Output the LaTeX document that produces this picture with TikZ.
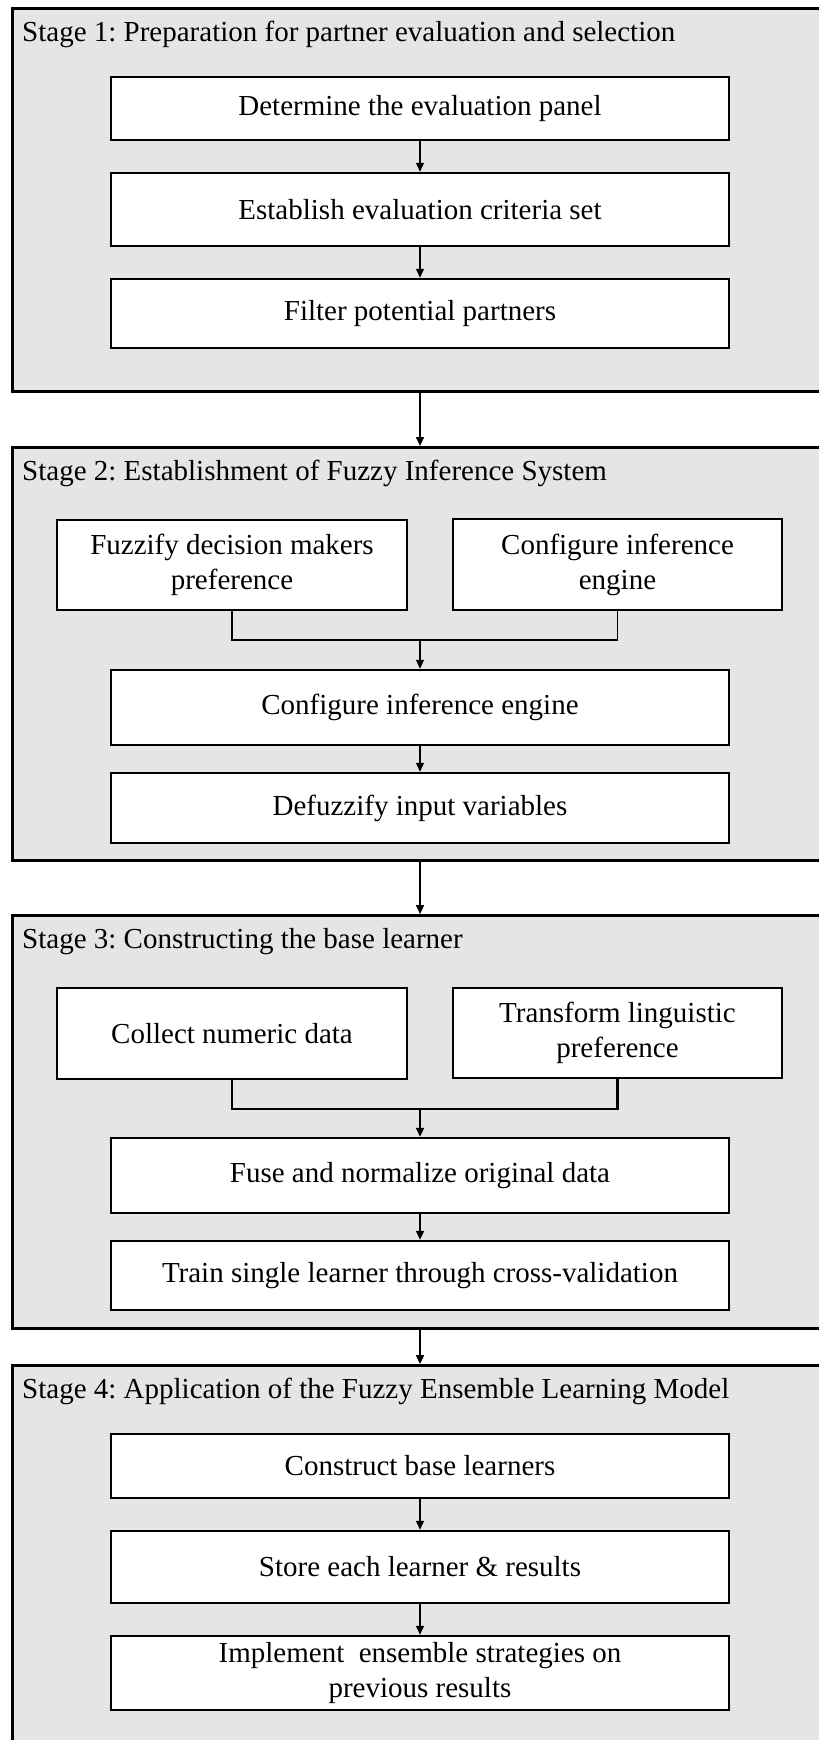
\documentclass[tikz,border=0pt]{standalone}
\usepackage{fontspec}
\setmainfont{Liberation Serif}
\frenchspacing
\usetikzlibrary{arrows.meta}

\begin{document}
\begin{tikzpicture}[x=1pt, y=-1pt,
		stagebox/.style={draw, line width=2.5pt, fill=gray!20, anchor=north west, inner sep=0pt},
		stagetitle/.style={anchor=base west, inner sep=0pt},
		stepbox/.style={draw, line width=2.5pt, fill=white, align=center, inner sep=0pt},
		lnthin/.style={line width=1.3pt},
		lnthick/.style={line width=2.2pt},
		arr/.style={-{Triangle[width=8pt,length=9pt]}},
		font=\fontsize{29}{35}\selectfont]
				\useasboundingbox (0,0) rectangle (819,1740);
				
				% Stage frames
				\node[stagebox, minimum width=830pt, minimum height=383pt] (s1) at (11,7) {};
				\node[stagebox, minimum width=830pt, minimum height=413pt] (s2) at (11,446) {};
				\node[stagebox, minimum width=830pt, minimum height=413pt] (s3) at (11,914) {};
				\node[stagebox, minimum width=830pt, minimum height=406pt] (s4) at (11,1364) {};
				
				% Stage titles
				\node[stagetitle] (t1) at (22,41) {Stage 1: Preparation for partner evaluation and selection};
				\node[stagetitle] (t2) at (22,480) {Stage 2: Establishment of Fuzzy Inference System};
				\node[stagetitle] (t3) at (22,948) {Stage 3: Constructing the base learner};
				\node[stagetitle] (t4) at (22,1398) {Stage 4: Application of the Fuzzy Ensemble Learning Model};
				
				% Stage 1
				\node[stepbox, minimum width=618pt, minimum height=63pt] (b1) at (420,108.5) {Determine the evaluation panel};
				\node[stepbox, minimum width=618pt, minimum height=73pt] (b2) at (420,209.5) {Establish evaluation criteria set};
				\node[stepbox, minimum width=618pt, minimum height=69pt] (b3) at (420,313.5) {Filter potential partners};
				\draw[lnthin, arr] (b1) -- (b2);
				\draw[lnthin, arr] (b2) -- (b3);
				
				% Stage 2
				\node[stepbox, minimum width=350pt, minimum height=90pt] (f1) at (232,565) {Fuzzify decision makers\\preference};
				\node[stepbox, minimum width=329pt, minimum height=91pt] (f2) at (617.5,564.5) {Configure inference\\engine};
				\node[stepbox, minimum width=618pt, minimum height=75pt] (c1) at (420,707.5) {Configure inference engine};
				\node[stepbox, minimum width=618pt, minimum height=70pt] (c2) at (420,808) {Defuzzify input variables};
				\coordinate (j2) at (420,640);
				\draw[lnthin] (f1.south) |- (j2) -| (f2.south);
				\draw[lnthin, arr] (j2) -- (c1);
				\draw[lnthin, arr] (c1) -- (c2);
				
				% Stage 3
				\node[stepbox, minimum width=350pt, minimum height=91pt] (n1) at (232,1033.5) {Collect numeric data};
				\node[stepbox, minimum width=329pt, minimum height=90pt] (n2) at (617.5,1033) {Transform linguistic\\preference};
				\node[stepbox, minimum width=618pt, minimum height=75pt] (g1) at (420,1175.5) {Fuse and normalize original data};
				\node[stepbox, minimum width=618pt, minimum height=69pt] (g2) at (420,1275.5) {Train single learner through cross-validation};
				\coordinate (j3) at (420,1109);
				\draw[lnthick] (n1.south) |- (j3) -| (n2.south);
				\draw[lnthick, arr] (j3) -- (g1);
				\draw[lnthick, arr] (g1) -- (g2);
				
				% Stage 4
				\node[stepbox, minimum width=618pt, minimum height=64pt] (d1) at (420,1466) {Construct base learners};
				\node[stepbox, minimum width=618pt, minimum height=72pt] (d2) at (420,1567) {Store each learner \& results};
				\node[stepbox, minimum width=618pt, minimum height=74pt] (d3) at (420,1673) {Implement~ ensemble strategies on\\previous results};
				\draw[lnthin, arr] (d1) -- (d2);
				\draw[lnthin, arr] (d2) -- (d3);
				
				% Links between stages
				\draw[lnthick, arr] (s1.south -| b3) -- (s2.north -| c1);
				\draw[lnthick, arr] (s2.south -| c2) -- (s3.north -| g1);
				\draw[lnthick, arr] (s3.south -| g2) -- (s4.north -| d1);
			\end{tikzpicture}
\end{document}
